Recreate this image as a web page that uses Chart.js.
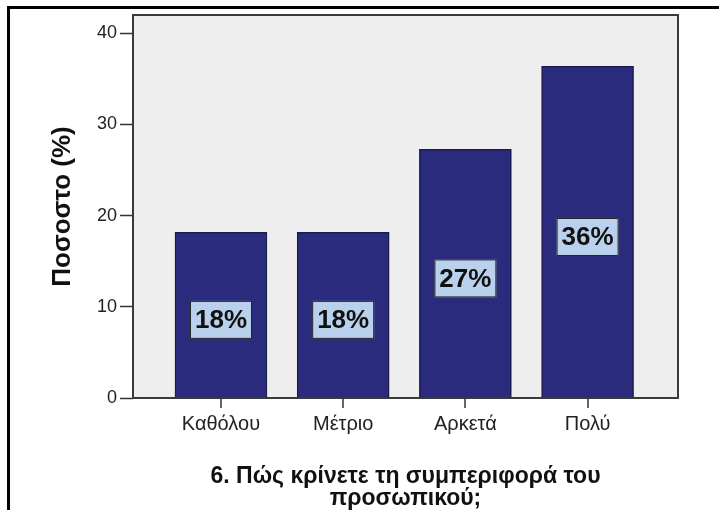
<!DOCTYPE html>
<html>
<head>
<meta charset="utf-8">
<script src="https://cdn.jsdelivr.net/npm/chart.js@4/dist/chart.umd.min.js"></script>
<style>
  body { margin: 0; background: #fff; }
  canvas { display: block; }
</style>
</head>
<body>
<canvas id="chart" width="719" height="510"></canvas>
<script>
const categories = ["Καθόλου", "Μέτριο", "Αρκετά", "Πολύ"];
const percentages = [18.18, 18.18, 27.27, 36.36];
const yTicks = [0, 10, 20, 30, 40];
const titleLines = ["6. Πώς κρίνετε τη συμπεριφορά του", "προσωπικού;"];
const yTitle = "Ποσοστο (%)";

const FONT = 'Arial, "Liberation Sans", sans-serif';

// grey plot background + frame
const plotFrame = {
  id: "plotFrame",
  beforeDraw(chart) {
    const { ctx, chartArea: a } = chart;
    ctx.save();
    ctx.fillStyle = "#eeeeee";
    ctx.fillRect(a.left, a.top, a.right - a.left, a.bottom - a.top);
    ctx.restore();
  },
  beforeDatasetsDraw(chart) {
    const { ctx, chartArea: a } = chart;
    ctx.save();
    ctx.strokeStyle = "#3a3a3a";
    ctx.lineWidth = 2;
    ctx.strokeRect(a.left, a.top, a.right - a.left, a.bottom - a.top);
    // category tick marks under the x axis
    const xs = chart.scales.x;
    ctx.lineWidth = 1.5;
    ctx.strokeStyle = "#333";
    categories.forEach((c, i) => {
      const px = Math.round(xs.getPixelForValue(i));
      ctx.beginPath();
      ctx.moveTo(px, a.bottom);
      ctx.lineTo(px, a.bottom + 10);
      ctx.stroke();
    });
    ctx.restore();
  },
  afterDraw(chart) {
    // outer page border
    const ctx = chart.ctx;
    ctx.save();
    ctx.strokeStyle = "#000";
    ctx.lineWidth = 3;
    ctx.beginPath();
    ctx.moveTo(8.5, 510);
    ctx.lineTo(8.5, 7.5);
    ctx.lineTo(719, 7.5);
    ctx.stroke();
    ctx.restore();
  },
};

// percentage labels in light blue boxes
const barLabels = {
  id: "barLabels",
  afterDatasetsDraw(chart) {
    const ctx = chart.ctx;
    const meta = chart.getDatasetMeta(0);
    ctx.save();
    ctx.font = "bold 26px " + FONT;
    ctx.textAlign = "center";
    ctx.textBaseline = "middle";
    meta.data.forEach((bar, i) => {
      const txt = Math.round(percentages[i]) + "%";
      const cx = bar.x;
      const cy = (bar.y + bar.base) / 2 + 5;
      const w = 62, h = 38;
      ctx.fillStyle = "#b9d1ec";
      ctx.fillRect(cx - w / 2, cy - h / 2, w, h);
      ctx.strokeStyle = "#222";
      ctx.lineWidth = 1;
      ctx.strokeRect(cx - w / 2 + 0.5, cy - h / 2 + 0.5, w - 1, h - 1);
      ctx.fillStyle = "#111";
      ctx.fillText(txt, cx, cy + 1);
    });
    ctx.restore();
  },
};

new Chart(document.getElementById("chart").getContext("2d"), {
  type: "bar",
  data: {
    datasets: [
      {
        data: percentages.map((v, i) => ({ x: i, y: v })),
        backgroundColor: "#2b2b7d",
        borderColor: "#1c1c4e",
        borderWidth: 1.5,
        barThickness: 92,
      },
    ],
  },
  options: {
    responsive: false,
    animation: false,
    devicePixelRatio: 1,
    layout: { padding: { left: 10, top: 15, right: 41, bottom: 0 } },
    plugins: {
      legend: { display: false },
      tooltip: { enabled: false },
    },
    scales: {
      x: {
        type: "linear",
        min: -0.72,
        max: 3.74,
        offset: false,
        afterBuildTicks: (s) => {
          s.ticks = categories.map((c, i) => ({ value: i }));
        },
        afterFit: (s) => {
          s.height = 112;
        },
        ticks: {
          callback: (v) => categories[v],
          font: { family: FONT, size: 20 },
          color: "#222",
          padding: 4,
          maxRotation: 0,
        },
        grid: {
          offset: false,
          display: false,
          drawOnChartArea: false,
          tickLength: 10,
        },
        border: { display: false },
        title: {
          display: true,
          text: titleLines,
          font: { family: FONT, size: 23, weight: "bold", lineHeight: 0.96 },
          color: "#111",
          padding: { top: 0, bottom: 0 },
        },
      },
      y: {
        min: 0,
        max: 42,
        afterBuildTicks: (s) => {
          s.ticks = yTicks.map((v) => ({ value: v }));
        },
        afterFit: (s) => {
          s.width = 123;
        },
        ticks: {
          font: { family: FONT, size: 18 },
          color: "#222",
          padding: 3,
        },
        grid: {
          drawOnChartArea: false,
          tickLength: 13,
          color: "#333",
          tickWidth: 1.5,
        },
        border: { display: false },
        title: {
          display: true,
          text: yTitle,
          font: { family: FONT, size: 26, weight: "bold", lineHeight: 1.2 },
          color: "#111",
          padding: { top: 37, bottom: 0 },
        },
      },
    },
  },
  plugins: [plotFrame, barLabels],
});
</script>
</body>
</html>
